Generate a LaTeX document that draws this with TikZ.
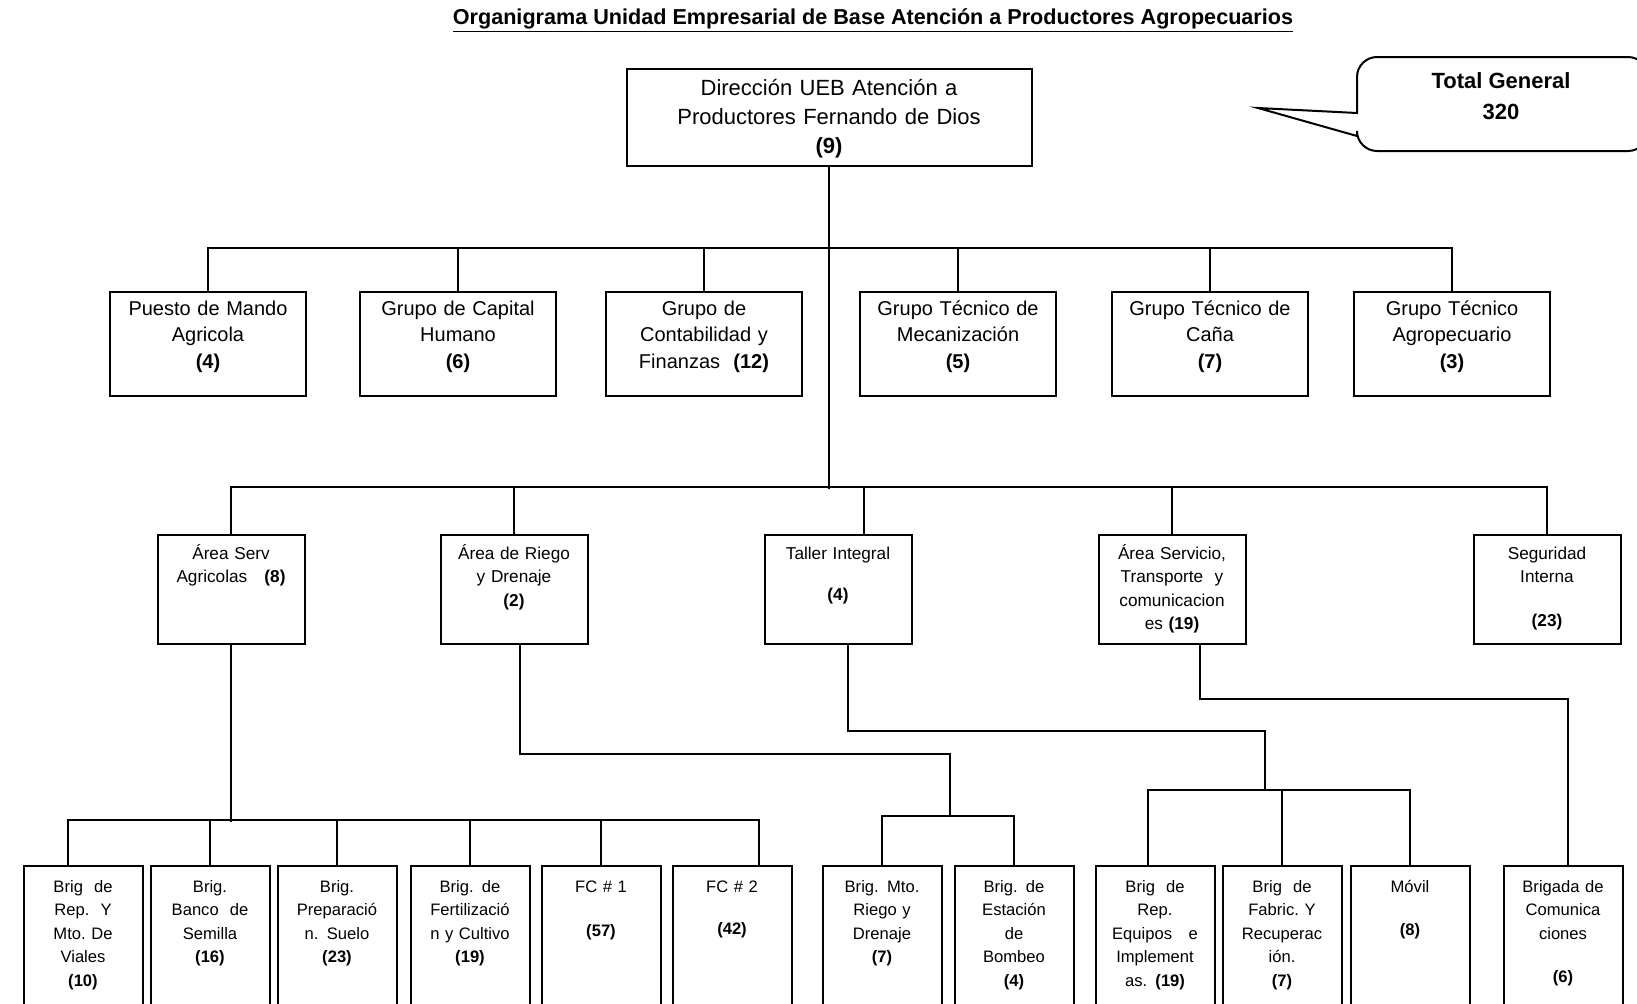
\documentclass[tikz,border=0pt]{standalone}
\usepackage{fontspec}
\setmainfont{Liberation Sans}

\begin{document}
\begin{tikzpicture}
  [x=0.5pt, y=-0.5pt, line width=1pt,
   dirbox/.style={draw, anchor=north, inner sep=0pt, text width=202.5pt, align=center,
     font=\fontsize{11}{14.5}\selectfont, text height=13.3pt, text depth=35.2pt},
   grupo/.style={draw, anchor=north, inner xsep=2pt, inner ysep=0pt, text width=94pt,
     align=center, font=\fontsize{10}{13.3}\selectfont, text height=11.5pt, text depth=40.5pt},
   area/.style={draw, anchor=north, inner xsep=2pt, inner ysep=0pt, text width=69.5pt,
     align=center, font=\fontsize{8.6}{11.8}\selectfont, text height=12pt, text depth=42.5pt},
   brig/.style={draw, anchor=north, inner xsep=2pt, inner ysep=0pt, text width=55.5pt,
     align=center, font=\fontsize{8.3}{11.8}\selectfont, text height=13pt, text depth=57pt}]
	\path [use as bounding box, fill=white] (0,0) rectangle (1637,1003);

	\node [name=titulo, anchor=base, font=\bfseries\fontsize{10.8}{13}\selectfont] at (873,24)
		{\underline{Organigrama Unidad Empresarial de Base Atención a Productores Agropecuarios}};

	% total
	\draw (1357,113) -- (1258,108) -- (1357,136) [rounded corners=10pt] -- (1357,151)
		-- (1648,151) -- (1648,57) -- (1357,57) [sharp corners] -- cycle;
	\node [name=total, align=center, font=\bfseries\fontsize{11}{15.5}\selectfont] at (1501,96)
		{Total General\\320};

	\node [name=dir, dirbox] at (829,68)
		{Dirección UEB Atención a\\Productores Fernando de Dios\\\textbf{(9)}};

	% grupos
	\node [name=p1, grupo] at (208,291) {Puesto de Mando\\Agricola\\\textbf{(4)}};
	\node [name=p2, grupo] at (458,291) {Grupo de Capital\\Humano\\\textbf{(6)}};
	\node [name=p3, grupo] at (704,291) {Grupo de\\Contabilidad y\\Finanzas\ \ \textbf{(12)}};
	\node [name=p4, grupo] at (958,291) {Grupo Técnico de\\Mecanización\\\textbf{(5)}};
	\node [name=p5, grupo] at (1210,291) {Grupo Técnico de\\Caña\\\textbf{(7)}};
	\node [name=p6, grupo] at (1452,291) {Grupo Técnico\\Agropecuario\\\textbf{(3)}};

	% areas
	\node [name=a1, area] at (231,534) {Área Serv\\Agricolas\quad\textbf{(8)}};
	\node [name=a2, area] at (514,534) {Área de Riego\\y Drenaje\\\textbf{(2)}};
	\node [name=a3, area] at (838,534) {Taller Integral\\[9pt]\textbf{(4)}};
	\node [name=a4, area] at (1172,534) {Área Servicio,\\Transporte\ \ y\\comunicacion\\es \textbf{(19)}};
	\node [name=a5, area] at (1547,534) {Seguridad\\Interna\\[10pt]\textbf{(23)}};

	% brigadas
	\node [name=b1, brig] at (83,865) {Brig\ \ de\\Rep.\ \ Y\\Mto.\ De\\Viales\\\textbf{(10)}};
	\node [name=b2, brig] at (210,865) {Brig.\\Banco\ \ de\\Semilla\\\textbf{(16)}};
	\node [name=b3, brig] at (337,865) {Brig.\\Preparació\\n. Suelo\\\textbf{(23)}};
	\node [name=b4, brig] at (470,865) {Brig. de\\Fertilizació\\n y Cultivo\\\textbf{(19)}};
	\node [name=b5, brig] at (601,865) {FC \# 1\\[10.5pt]\textbf{(57)}};
	\node [name=b6, brig] at (732,865) {FC \# 2\\[9.5pt]\textbf{(42)}};
	\node [name=b7, brig] at (882,865) {Brig. Mto.\\Riego y\\Drenaje\\\textbf{(7)}};
	\node [name=b8, brig] at (1014,865) {Brig. de\\Estación\\de\\Bombeo\\\textbf{(4)}};
	\node [name=b9, brig] at (1155,865) {Brig\ \ de\\Rep.\\Equipos\ \ \ e\\Implement\\as. \textbf{(19)}};
	\node [name=b10, brig] at (1282,865) {Brig\ \ de\\Fabric.\ Y\\Recuperac\\ión.\\\textbf{(7)}};
	\node [name=b11, brig] at (1410,865) {Móvil\\[10pt]\textbf{(8)}};
	\node [name=b12, brig] at (1563,865) {Brigada de\\Comunica\\ciones\\[10pt]\textbf{(6)}};

	\coordinate (rb) at (950,816);
	\coordinate (tb) at (1265,790);

	\draw (dir.south) -- ++(0,322);
	\draw (p1.north) -- ++(0,-43) -| (p6.north);
	\foreach \n in {p2,p3,p4,p5}
		\draw (\n.north) -- ++(0,-43);
	\draw (a1.north) -- ++(0,-47) -| (a5.north);
	\foreach \n in {a2,a4}
		\draw (\n.north) -- ++(0,-47);
	\draw ([xshift=13pt]a3.north) -- ++(0,-47);

	\draw (a1.south) -- ++(0,177);
	\draw ([xshift=-7.5pt]b1.north) -- ++(0,-45) -| ([xshift=13.5pt]b6.north);
	\foreach \n in {b2,b3,b4,b5}
		\draw (\n.north) -- ++(0,-45);

	\draw ([xshift=3pt]a2.south) -- ++(0,109) -| (rb);
	\draw (b7.north) |- (rb) -| (b8.north);

	\draw ([xshift=5pt]a3.south) -- ++(0,86) -| (tb);
	\draw ([xshift=-3.5pt]b9.north) |- (tb) -| (b11.north);
	\draw (b10.north) -- (b10.north |- tb);

	\draw ([xshift=14pt]a4.south) -- ++(0,54) -| ([xshift=2.5pt]b12.north);
\end{tikzpicture}
\end{document}
